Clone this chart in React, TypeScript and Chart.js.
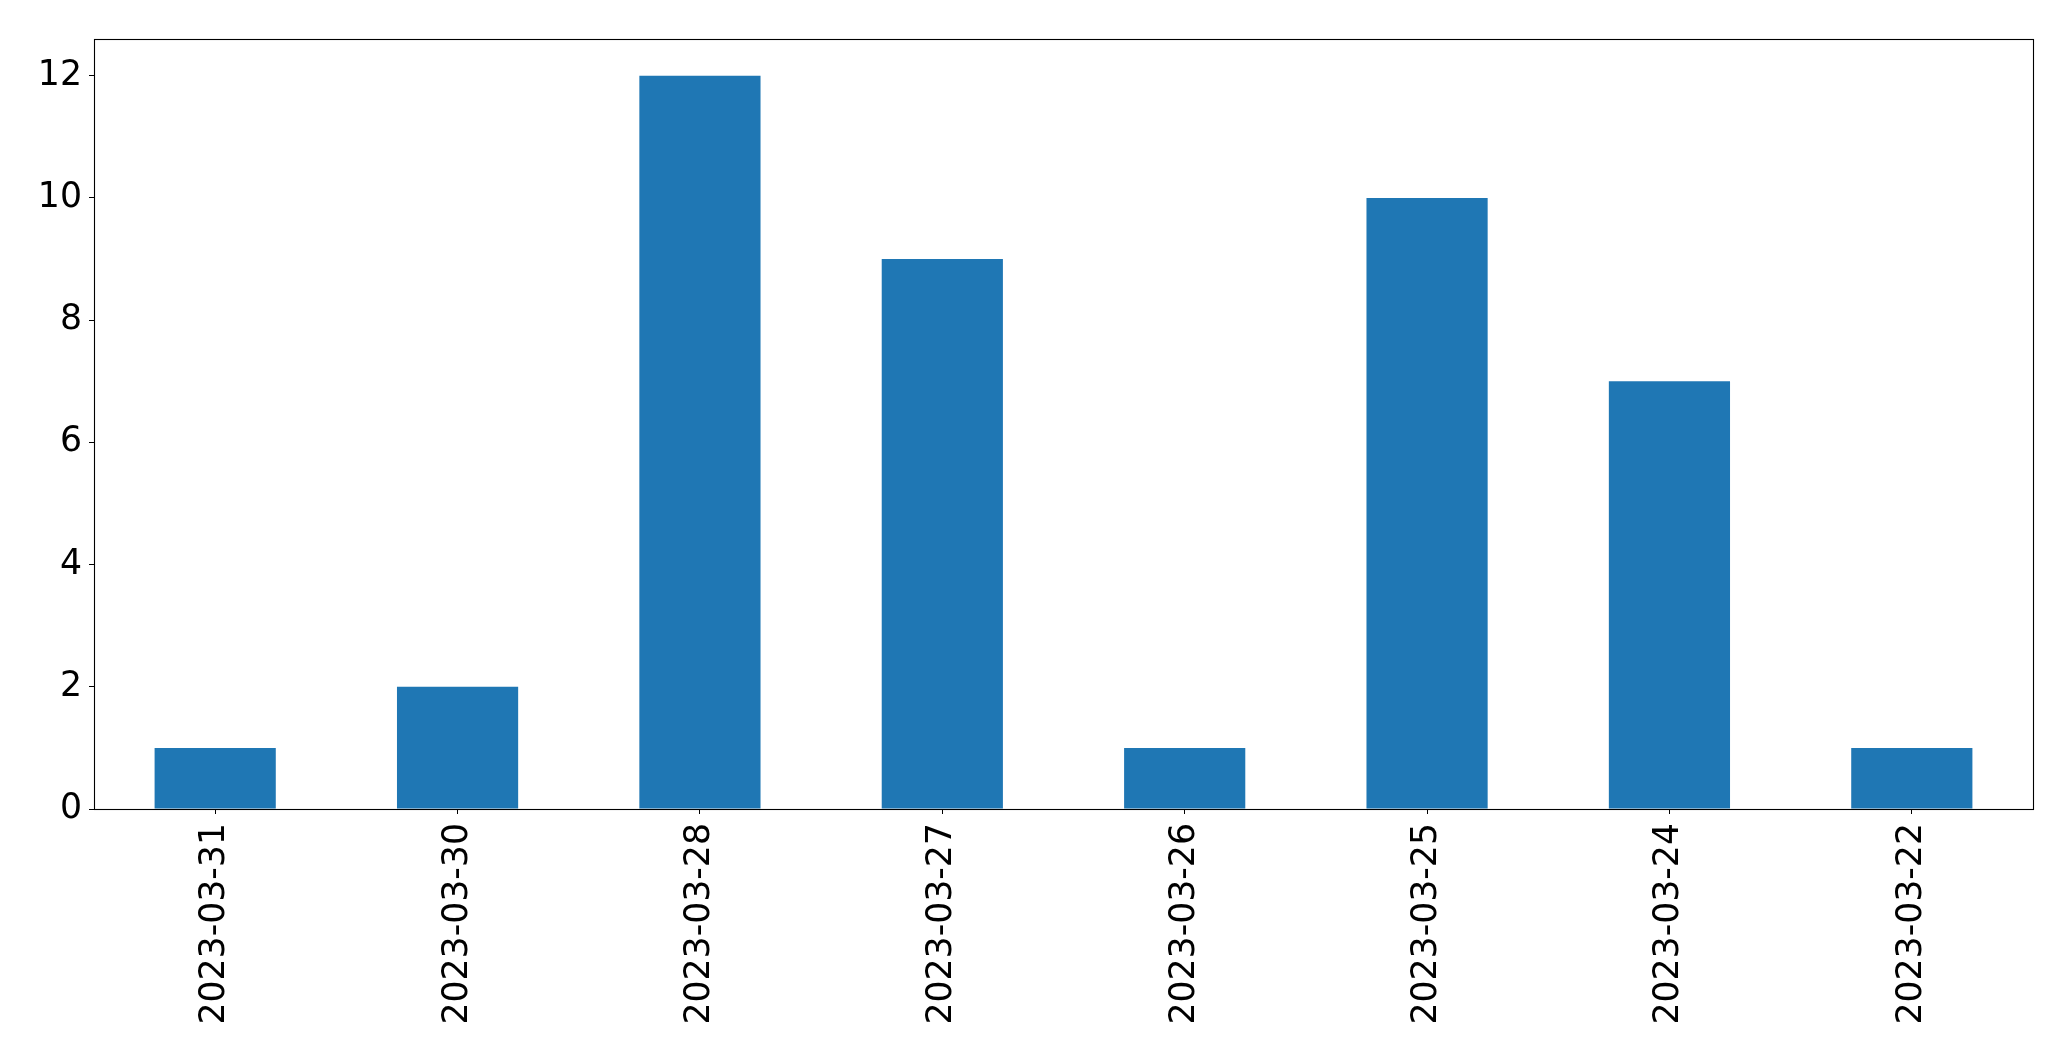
import React, { useEffect, useRef } from "react";
import { Chart, registerables } from "chart.js";

Chart.register(...registerables);

const categories: string[] = [
  "2023-03-31",
  "2023-03-30",
  "2023-03-28",
  "2023-03-27",
  "2023-03-26",
  "2023-03-25",
  "2023-03-24",
  "2023-03-22",
];
const counts: number[] = [1, 2, 12, 9, 1, 10, 7, 1];
const yTicks: number[] = [0, 2, 4, 6, 8, 10, 12];
const yMax = 12.6;

const FONT = "'DejaVu Sans', sans-serif";

const frame = {
  id: "frame",
  afterDatasetsDraw(chart: any) {
    const { ctx, chartArea } = chart;
    ctx.save();
    ctx.strokeStyle = "#000";
    ctx.lineWidth = 1.1;
    ctx.strokeRect(
      Math.round(chartArea.left) + 0.5,
      Math.round(chartArea.top) + 0.5,
      Math.round(chartArea.right - chartArea.left),
      Math.round(chartArea.bottom - chartArea.top)
    );
    ctx.restore();
  },
};

export default function App() {
  const ref = useRef<HTMLCanvasElement | null>(null);
  useEffect(() => {
    document.body.style.margin = "0";
    const canvas = ref.current!;
    const chart = new Chart(canvas, {
      type: "bar",
      data: {
        labels: categories,
        datasets: [
          {
            data: counts,
            backgroundColor: "#1f77b4",
            barPercentage: 0.5,
            categoryPercentage: 1,
          },
        ],
      },
      plugins: [frame],
      options: {
        animation: false,
        responsive: false,
        devicePixelRatio: 1,
        layout: { padding: { top: 39, right: 38, left: 0, bottom: 0 } },
        plugins: { legend: { display: false }, tooltip: { enabled: false } },
        scales: {
          x: {
            type: "category",
            offset: true,
            grid: {
              drawOnChartArea: false,
              drawTicks: true,
              tickLength: 5,
              color: "#000",
              offset: false,
            },
            border: { display: true, color: "#000", width: 1 },
            ticks: {
              minRotation: 90,
              maxRotation: 90,
              autoSkip: false,
              padding: 9,
              color: "#000",
              font: { family: FONT, size: 34.7 },
            },
            afterFit(scale: any) {
              scale.height = 252;
            },
          },
          y: {
            type: "linear",
            min: 0,
            max: yMax,
            grid: {
              drawOnChartArea: false,
              drawTicks: true,
              tickLength: 5,
              color: "#000",
            },
            border: { display: true, color: "#000", width: 1 },
            ticks: {
              stepSize: 2,
              includeBounds: false,
              padding: 7,
              color: "#000",
              font: { family: FONT, size: 34.7 },
            },
            afterBuildTicks(scale: any) {
              scale.ticks = yTicks.map((v) => ({ value: v }));
            },
            afterFit(scale: any) {
              scale.width = 94;
            },
          },
        },
      },
    });
    return () => chart.destroy();
  }, []);
  return (
    <div style={{ position: "fixed", left: 0, top: 0, width: 2071, height: 1061, background: "#fff" }}>
      <canvas ref={ref} width={2071} height={1061} style={{ width: 2071, height: 1061 }} />
    </div>
  );
}
